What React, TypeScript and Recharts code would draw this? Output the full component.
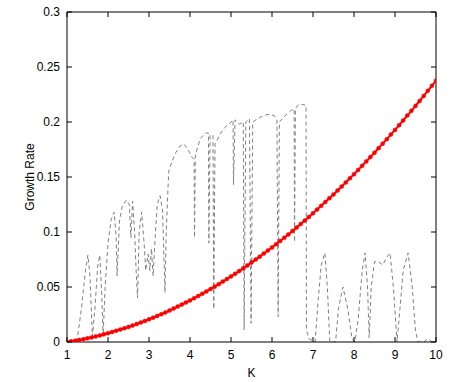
import React from 'react';
import { LineChart, Line, XAxis, YAxis } from 'recharts';

// K grid for the red curve
const kGrid = [
  1.0, 1.1, 1.2, 1.3, 1.4, 1.5, 1.6, 1.7, 1.8, 1.9,
  2.0, 2.1, 2.2, 2.3, 2.4, 2.5, 2.6, 2.7, 2.8, 2.9,
  3.0, 3.1, 3.2, 3.3, 3.4, 3.5, 3.6, 3.7, 3.8, 3.9,
  4.0, 4.1, 4.2, 4.3, 4.4, 4.5, 4.6, 4.7, 4.8, 4.9,
  5.0, 5.1, 5.2, 5.3, 5.4, 5.5, 5.6, 5.7, 5.8, 5.9,
  6.0, 6.1, 6.2, 6.3, 6.4, 6.5, 6.6, 6.7, 6.8, 6.9,
  7.0, 7.1, 7.2, 7.3, 7.4, 7.5, 7.6, 7.7, 7.8, 7.9,
  8.0, 8.1, 8.2, 8.3, 8.4, 8.5, 8.6, 8.7, 8.8, 8.9,
  9.0, 9.1, 9.2, 9.3, 9.4, 9.5, 9.6, 9.7, 9.8, 9.9,
  10.0,
];

// red series: growth rate
const growthRate = [
  0.0, 0.0006, 0.0012, 0.0019, 0.0026, 0.0034, 0.0042, 0.0051, 0.006, 0.007,
  0.008, 0.0091, 0.0102, 0.0113, 0.0125, 0.0137, 0.015, 0.0163, 0.0177, 0.0191,
  0.0206, 0.0221, 0.0237, 0.0253, 0.0269, 0.0286, 0.0304, 0.0322, 0.034, 0.0359,
  0.0378, 0.0398, 0.0418, 0.0439, 0.046, 0.0481, 0.0503, 0.0526, 0.0549, 0.0572,
  0.0596, 0.062, 0.0645, 0.067, 0.0696, 0.0722, 0.0749, 0.0776, 0.0804, 0.0832,
  0.086, 0.0889, 0.0918, 0.0948, 0.0978, 0.1009, 0.104, 0.1072, 0.1104, 0.1137,
  0.117, 0.1204, 0.1238, 0.1272, 0.1307, 0.1342, 0.1378, 0.1414, 0.1451, 0.1488,
  0.1526, 0.1564, 0.1603, 0.1642, 0.1681, 0.1721, 0.1762, 0.1803, 0.1844, 0.1886,
  0.1928, 0.1971, 0.2014, 0.2058, 0.2102, 0.2146, 0.2191, 0.2237, 0.2283, 0.2329,
  0.2376,
];

// gray dashed series (K, rate)
const dashK = [
  1.24, 1.35, 1.45, 1.51, 1.56, 1.62, 1.68, 1.75, 1.8, 1.85,
  1.88, 1.93, 2.0, 2.08, 2.15, 2.2, 2.22, 2.28, 2.35, 2.45,
  2.52, 2.56, 2.6, 2.65, 2.68, 2.72, 2.76, 2.82, 2.88, 2.92,
  2.98, 3.02, 3.06, 3.1, 3.15, 3.2, 3.27, 3.33, 3.37, 3.39,
  3.42, 3.48, 3.56, 3.65, 3.75, 3.85, 3.95, 4.05, 4.1, 4.11,
  4.13, 4.25, 4.38, 4.45, 4.46, 4.49, 4.56, 4.58, 4.61, 4.75,
  4.85, 5.0, 5.05, 5.06, 5.1, 5.2, 5.3, 5.32, 5.36, 5.45,
  5.49, 5.53, 5.65, 5.75, 5.9, 6.05, 6.12, 6.15, 6.18, 6.3,
  6.45, 6.54, 6.55, 6.57, 6.65, 6.75, 6.83, 6.84, 6.9, 7.05,
  7.12, 7.2, 7.29, 7.35, 7.41, 7.55, 7.62, 7.73, 7.85, 7.95,
  8.02, 8.1, 8.2, 8.27, 8.33, 8.37, 8.42, 8.5, 8.6, 8.7,
  8.8, 8.88, 8.96, 9.05, 9.12, 9.2, 9.32, 9.42, 9.5, 9.56,
  9.7, 9.8, 9.9,
];
const dashRate = [
  0.0, 0.03, 0.065, 0.079, 0.06, 0.005, 0.03, 0.07, 0.079, 0.04,
  0.005, 0.05, 0.09, 0.112, 0.118, 0.095, 0.06, 0.11, 0.124, 0.129,
  0.125, 0.095, 0.128, 0.1, 0.07, 0.04, 0.1, 0.118, 0.09, 0.065,
  0.08, 0.065, 0.085, 0.06, 0.095, 0.125, 0.133, 0.12, 0.07, 0.045,
  0.1, 0.155, 0.164, 0.172, 0.178, 0.18, 0.175, 0.168, 0.166, 0.095,
  0.17, 0.185, 0.19, 0.19, 0.09, 0.188, 0.188, 0.03, 0.18, 0.19,
  0.195, 0.2, 0.202, 0.143, 0.202, 0.198, 0.2, 0.011, 0.2, 0.203,
  0.017, 0.2, 0.203, 0.205, 0.207, 0.206, 0.202, 0.023, 0.2, 0.205,
  0.21, 0.212, 0.091, 0.212, 0.216, 0.216, 0.215, 0.011, 0.003, 0.0,
  0.035, 0.07, 0.081, 0.05, 0.0, 0.0, 0.03, 0.05, 0.03, 0.003,
  0.0, 0.02, 0.065, 0.081, 0.05, 0.004, 0.05, 0.073, 0.073, 0.07,
  0.077, 0.081, 0.05, 0.0, 0.03, 0.065, 0.081, 0.05, 0.01, 0.0,
  0.0, 0.003, 0.0,
];

const xTicks = [1, 2, 3, 4, 5, 6, 7, 8, 9, 10];
const yTicks = [0, 0.05, 0.1, 0.15, 0.2, 0.25, 0.3];
const xLabel = 'K';
const yLabel = 'Growth Rate';

const redData = kGrid.map((k, i) => ({ k, rate: growthRate[i] }));
const dashData = dashK.map((k, i) => ({ k, rate: dashRate[i] }));

const FONT = '"Liberation Sans", Arial, Helvetica, sans-serif';
const TICK = 5;

const BottomTick = (props: any) => {
  const { x, y, payload } = props;
  return (
    <g>
      <line x1={x} x2={x} y1={y} y2={y - TICK} stroke="#000" strokeWidth={1} />
      <text x={x} y={y + 17} textAnchor="middle" fontSize={12} fontFamily={FONT} fill="#000">
        {String(payload.value)}
      </text>
    </g>
  );
};

const TopTick = (props: any) => {
  const { x, y } = props;
  return <line x1={x} x2={x} y1={y} y2={y + TICK} stroke="#000" strokeWidth={1} />;
};

const LeftTick = (props: any) => {
  const { x, y, payload } = props;
  return (
    <g>
      <line x1={x} x2={x + TICK} y1={y} y2={y} stroke="#000" strokeWidth={1} />
      <text x={x - 7} y={y + 4} textAnchor="end" fontSize={12} fontFamily={FONT} fill="#000">
        {String(payload.value)}
      </text>
    </g>
  );
};

const RightTick = (props: any) => {
  const { x, y } = props;
  return <line x1={x} x2={x - TICK} y1={y} y2={y} stroke="#000" strokeWidth={1} />;
};

const XLabel = (props: any) => {
  const vb = props.viewBox || {};
  return (
    <text x={vb.x + vb.width / 2} y={vb.y + 35} textAnchor="middle" fontSize={12} fontFamily={FONT} fill="#000">
      {xLabel}
    </text>
  );
};

const YLabel = (props: any) => {
  const vb = props.viewBox || {};
  const cx = 30;
  const cy = vb.y + vb.height / 2;
  return (
    <text
      x={cx}
      y={cy}
      transform={`rotate(-90 ${cx} ${cy})`}
      textAnchor="middle"
      dominantBaseline="central"
      fontSize={12}
      fontFamily={FONT}
      fill="#000"
    >
      {yLabel}
    </text>
  );
};

export default function App() {
  return (
    <div style={{ position: 'absolute', left: 0, top: 0 }}>
      <LineChart width={458} height={382} margin={{ top: 11, right: 21, bottom: 0, left: 10 }}>
        <XAxis
          dataKey="k"
          type="number"
          domain={[1, 10]}
          ticks={xTicks}
          allowDataOverflow
          height={40}
          tickSize={0}
          tickMargin={0}
          tick={<BottomTick />}
          axisLine={{ stroke: '#000', strokeWidth: 1 }}
          label={<XLabel />}
        />
        <XAxis
          xAxisId="top"
          orientation="top"
          dataKey="k"
          type="number"
          domain={[1, 10]}
          ticks={xTicks}
          allowDataOverflow
          height={1}
          tickSize={0}
          tickMargin={0}
          tick={<TopTick />}
          axisLine={{ stroke: '#000', strokeWidth: 1 }}
        />
        <YAxis
          type="number"
          domain={[0, 0.3]}
          ticks={yTicks}
          allowDataOverflow
          width={57}
          tickSize={0}
          tickMargin={0}
          tick={<LeftTick />}
          axisLine={{ stroke: '#000', strokeWidth: 1 }}
          label={<YLabel />}
        />
        <YAxis
          yAxisId="right"
          orientation="right"
          type="number"
          domain={[0, 0.3]}
          ticks={yTicks}
          allowDataOverflow
          width={1}
          tickSize={0}
          tickMargin={0}
          tick={<RightTick />}
          axisLine={{ stroke: '#000', strokeWidth: 1 }}
        />
        <Line
          data={dashData}
          dataKey="rate"
          type="linear"
          stroke="#808080"
          strokeWidth={1}
          strokeDasharray="4 3"
          dot={false}
          activeDot={false}
          isAnimationActive={false}
        />
        <Line
          data={redData}
          dataKey="rate"
          type="linear"
          stroke="#ff0000"
          strokeWidth={2}
          dot={{ r: 2, fill: '#ff0000', stroke: '#ff0000', strokeWidth: 0.5 }}
          activeDot={false}
          isAnimationActive={false}
        />
      </LineChart>
    </div>
  );
}
